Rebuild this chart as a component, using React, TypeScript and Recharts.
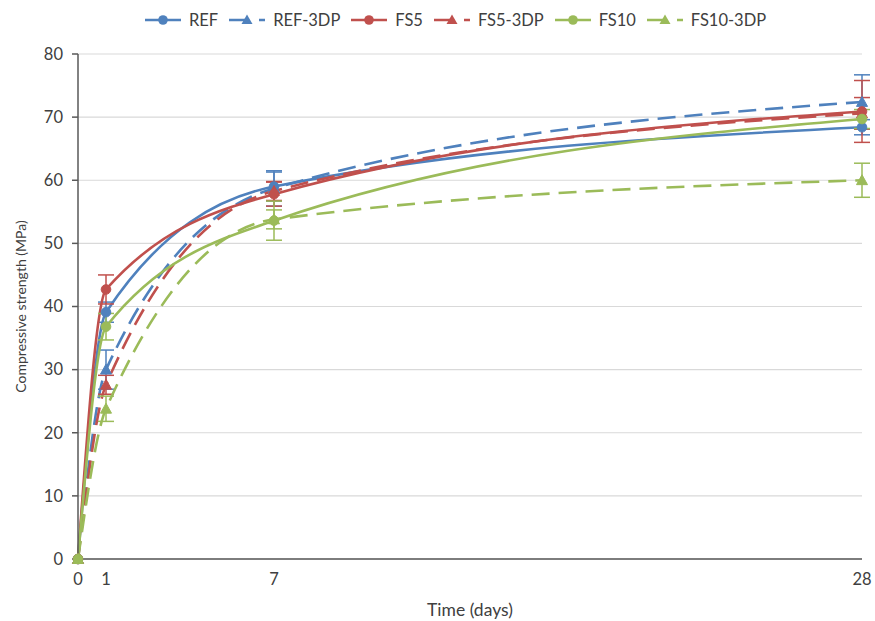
import React from 'react';
import { LineChart, Line, XAxis, YAxis, CartesianGrid, ErrorBar, Legend } from 'recharts';

const days = [0, 1, 7, 28];
const xTicks = [0, 1, 7, 28];
const yTicks = [0, 10, 20, 30, 40, 50, 60, 70, 80];

const refValues = [0, 39.1, 59.0, 68.4];
const refErrors = [null, 1.6, 2.3, 1.2];
const ref3Values = [0, 30.0, 58.7, 72.4];
const ref3Errors = [null, 3.1, 2.8, 4.3];
const fs5Values = [0, 42.7, 57.8, 70.9];
const fs5Errors = [null, 2.3, 1.9, 4.9];
const fs53Values = [0, 27.6, 58.3, 70.6];
const fs53Errors = [null, 1.5, 1.5, 2.5];
const fs10Values = [0, 36.8, 53.6, 69.7];
const fs10Errors = [null, 2.1, 3.1, 1.5];
const fs103Values = [0, 23.8, 53.8, 60.0];
const fs103Errors = [null, 2.0, 1.5, 2.7];

const BLUE = '#4F81BD';
const RED = '#C0504D';
const GREEN = '#9BBB59';
const FONT = 'Lato, "Open Sans", sans-serif';
const TEXT = '#404040';

const seriesDefs = [
  { key: 'ref', name: 'REF', color: BLUE, dashed: false, values: refValues, errors: refErrors },
  { key: 'ref3', name: 'REF-3DP', color: BLUE, dashed: true, values: ref3Values, errors: ref3Errors },
  { key: 'fs5', name: 'FS5', color: RED, dashed: false, values: fs5Values, errors: fs5Errors },
  { key: 'fs53', name: 'FS5-3DP', color: RED, dashed: true, values: fs53Values, errors: fs53Errors },
  { key: 'fs10', name: 'FS10', color: GREEN, dashed: false, values: fs10Values, errors: fs10Errors },
  { key: 'fs103', name: 'FS10-3DP', color: GREEN, dashed: true, values: fs103Values, errors: fs103Errors },
];

const data = days.map((d, i) => {
  const row: any = { day: d };
  seriesDefs.forEach((s) => {
    row[s.key] = s.values[i];
    row[s.key + 'Err'] = s.errors[i];
  });
  return row;
});

const makeDot = (color: string, triangle: boolean) => (props: any) => {
  const { cx, cy, index } = props;
  if (cx == null || cy == null) return <g key={index} />;
  if (triangle) {
    const s = 5.5;
    return (
      <path
        key={index}
        d={`M${cx},${cy - s} L${cx + s},${cy + s * 0.8} L${cx - s},${cy + s * 0.8} Z`}
        fill={color}
        stroke={color}
        strokeWidth={1}
      />
    );
  }
  return <circle key={index} cx={cx} cy={cy} r={4.8} fill={color} stroke={color} strokeWidth={1} />;
};

const LegendContent = () => (
  <div
    style={{
      display: 'flex',
      alignItems: 'center',
      height: 20,
      fontFamily: FONT,
      fontSize: 16.5,
      color: TEXT,
      whiteSpace: 'nowrap',
    }}
  >
    {seriesDefs.map((s) => (
      <div key={s.key} style={{ display: 'flex', alignItems: 'center', marginRight: 10 }}>
        <svg width={38} height={14} style={{ marginRight: 7 }}>
          <line
            x1={1}
            y1={7}
            x2={37}
            y2={7}
            stroke={s.color}
            strokeWidth={2.6}
            strokeDasharray={s.dashed ? '20 10' : undefined}
          />
          {s.dashed ? (
            <path d="M19,1.5 L24.5,11 L13.5,11 Z" fill={s.color} />
          ) : (
            <circle cx={19} cy={7} r={4.8} fill={s.color} />
          )}
        </svg>
        <span>{s.name}</span>
      </div>
    ))}
  </div>
);

export default function App() {
  return (
    <div style={{ position: 'absolute', left: 0, top: 0, width: 875, height: 621, background: '#fff' }}>
      <LineChart width={875} height={621} data={data} margin={{ top: 34, right: 13, bottom: 0, left: 0 }}>
        <CartesianGrid vertical={false} stroke="#D9D9D9" strokeWidth={1.2} />
        <XAxis
          dataKey="day"
          type="number"
          domain={[0, 28]}
          ticks={xTicks}
          height={62}
          tickLine={false}
          axisLine={{ stroke: '#595959', strokeWidth: 1.5 }}
          tick={{ fill: TEXT, fontSize: 16.5, fontFamily: FONT }}
          tickMargin={8}
          label={{
            value: 'Time (days)',
            position: 'insideBottom',
            offset: 5,
            style: { fill: TEXT, fontSize: 17.5, fontFamily: FONT },
          }}
        />
        <YAxis
          type="number"
          domain={[0, 80]}
          ticks={yTicks}
          width={78}
          tickSize={6}
          tickMargin={9}
          tickLine={{ stroke: '#595959', strokeWidth: 1.5 }}
          axisLine={{ stroke: '#595959', strokeWidth: 1.5 }}
          tick={{ fill: TEXT, fontSize: 16.5, fontFamily: FONT }}
          label={{
            value: 'Compressive strength (MPa)',
            angle: -90,
            position: 'insideLeft',
            offset: 21,
            style: { fill: TEXT, fontSize: 14, fontFamily: FONT, textAnchor: 'middle' },
          }}
        />
        <Legend verticalAlign="top" content={<LegendContent />} wrapperStyle={{ top: 10, left: 144, width: 'auto' }} />
        {seriesDefs.map((s) => (
          <Line
            key={s.key}
            dataKey={s.key}
            name={s.name}
            type="monotone"
            stroke={s.color}
            strokeWidth={2.6}
            strokeDasharray={s.dashed ? '18 9' : undefined}
            dot={makeDot(s.color, s.dashed)}
            activeDot={false}
            isAnimationActive={false}
          >
            <ErrorBar dataKey={s.key + 'Err'} direction="y" width={8} stroke={s.color} strokeWidth={1.5} />
          </Line>
        ))}
      </LineChart>
    </div>
  );
}
